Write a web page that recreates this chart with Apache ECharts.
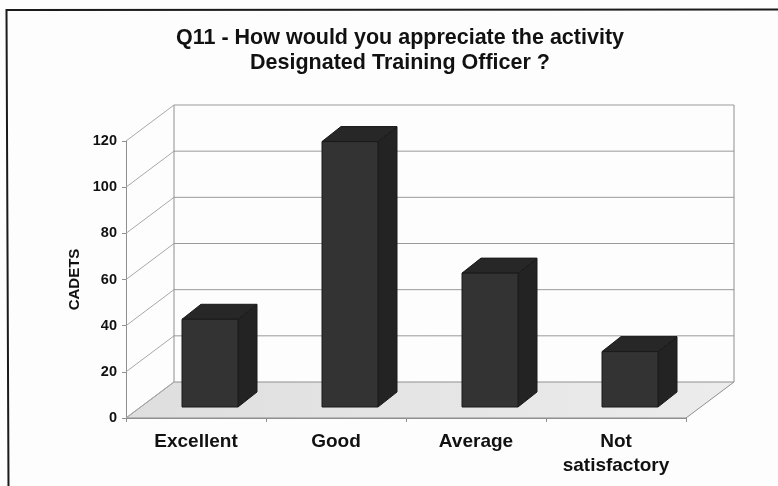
<!DOCTYPE html>
<html>
<head>
<meta charset="utf-8">
<style>
html, body { margin: 0; padding: 0; background: #fdfdfd; }
#main { width: 778px; height: 486px; }
</style>
<script src="https://cdn.jsdelivr.net/npm/echarts@6/dist/echarts.min.js"></script>
</head>
<body>
<div id="main"></div>
<script>
var categories = ['Excellent', 'Good', 'Average', 'Not\nsatisfactory'];
var cadets = [38, 115, 58, 24];
var yTicks = [0, 20, 40, 60, 80, 100, 120];

// depth of the fake 3d box, in pixels
var WALL_DX = 48, WALL_DY = -36;
var BAR_W = 56, BAR_DX = 19, BAR_DY = -15;
var BAR_LIFT_X = 14, BAR_LIFT_Y = -11;

function poly(points, fill, stroke, width) {
    return {
        type: 'polygon',
        shape: { points: points },
        style: { fill: fill, stroke: stroke || null, lineWidth: width || 0 }
    };
}

function seg(a, b, color) {
    return {
        type: 'line',
        shape: { x1: a[0], y1: a[1], x2: b[0], y2: b[1] },
        style: { stroke: color, lineWidth: 1 }
    };
}

function renderWalls(params, api) {
    var g = params.coordSys;
    var val = api.value(0);
    var left = g.x, right = g.x + g.width;
    var y = api.coord([0, val])[1];
    var kids = [];
    if (val === 0) {
        kids.push(poly([[left, y], [right, y], [right + WALL_DX, y + WALL_DY], [left + WALL_DX, y + WALL_DY]], {
            type: 'linear', x: 0, y: 1, x2: 1, y2: 0,
            colorStops: [{ offset: 0, color: '#dedede' }, { offset: 1, color: '#ececec' }]
        }, '#8f8f8f', 1));
    }
    if (val === 120) {
        kids.push(seg([left + WALL_DX, y + WALL_DY], [left + WALL_DX, g.y + g.height + WALL_DY], '#8f8f8f'));
        kids.push(seg([right + WALL_DX, y + WALL_DY], [right + WALL_DX, g.y + g.height + WALL_DY], '#8f8f8f'));
    }
    kids.push(seg([left, y], [left + WALL_DX, y + WALL_DY], '#a8a8a8'));
    if (val !== 0) {
        kids.push(seg([left + WALL_DX, y + WALL_DY], [right + WALL_DX, y + WALL_DY], '#9a9a9a'));
    }
    return { type: 'group', children: kids };
}

function renderBar(params, api) {
    var top = api.coord([api.value(0), api.value(1)]);
    var base = api.coord([api.value(0), 0]);
    var x0 = top[0] + BAR_LIFT_X - BAR_W / 2, x1 = x0 + BAR_W;
    var yt = top[1] + BAR_LIFT_Y, yb = base[1] + BAR_LIFT_Y;
    return {
        type: 'group',
        children: [
            poly([[x1, yt], [x1 + BAR_DX, yt + BAR_DY], [x1 + BAR_DX, yb + BAR_DY], [x1, yb]], '#232323', '#1a1a1a', 1),
            poly([[x0, yt], [x0 + BAR_DX, yt + BAR_DY], [x1 + BAR_DX, yt + BAR_DY], [x1, yt]], '#272727', '#1a1a1a', 1),
            { type: 'rect', shape: { x: x0, y: yt, width: BAR_W, height: yb - yt }, style: { fill: '#333333', stroke: '#1a1a1a', lineWidth: 1 } }
        ]
    };
}

var chart = echarts.init(document.getElementById('main'), null, { renderer: 'canvas' });
chart.setOption({
    animation: false,
    backgroundColor: '#fdfdfd',
    textStyle: { fontFamily: 'Liberation Sans' },
    title: {
        text: 'Q11 - How would you appreciate the activity\nDesignated Training Officer ?',
        left: 395,
        top: 21,
        textAlign: 'center',
        textStyle: { fontSize: 21.5, fontWeight: 'bold', color: '#111111', lineHeight: 25, fontFamily: 'Liberation Sans' }
    },
    graphic: [{
        type: 'polyline',
        shape: { points: [[8.5, 486], [6.5, 10], [778, 9.5]] },
        style: { fill: null, stroke: '#1a1a1a', lineWidth: 2 }
    }],
    grid: { left: 126, top: 141, width: 560, height: 277 },
    xAxis: {
        type: 'category',
        data: categories,
        axisLine: { lineStyle: { color: '#8f8f8f' } },
        axisTick: { show: true, alignWithLabel: false, length: 4, lineStyle: { color: '#8f8f8f' } },
        axisLabel: { fontSize: 19, fontWeight: 'bold', color: '#111111', margin: 12, lineHeight: 24, interval: 0 }
    },
    yAxis: {
        type: 'value',
        min: 0,
        max: 120,
        interval: 20,
        name: 'CADETS',
        nameLocation: 'middle',
        nameGap: 44,
        nameTextStyle: { fontSize: 15, fontWeight: 'bold', color: '#111111' },
        axisLine: { show: true, lineStyle: { color: '#8f8f8f' } },
        axisTick: { show: true, length: 4, lineStyle: { color: '#8f8f8f' } },
        axisLabel: { fontSize: 14.5, fontWeight: 'bold', color: '#111111', margin: 9 },
        splitLine: { show: false }
    },
    series: [{
        type: 'custom',
        name: 'walls',
        coordinateSystem: 'cartesian2d',
        renderItem: renderWalls,
        clip: false,
        encode: { y: 0 },
        data: yTicks.map(function (t) { return [t]; }),
        silent: true,
        z: 1
    }, {
        type: 'custom',
        name: 'CADETS',
        coordinateSystem: 'cartesian2d',
        renderItem: renderBar,
        clip: false,
        encode: { x: 0, y: 1 },
        data: cadets.map(function (v, i) { return [i, v]; }),
        z: 2
    }]
});
</script>
</body>
</html>
